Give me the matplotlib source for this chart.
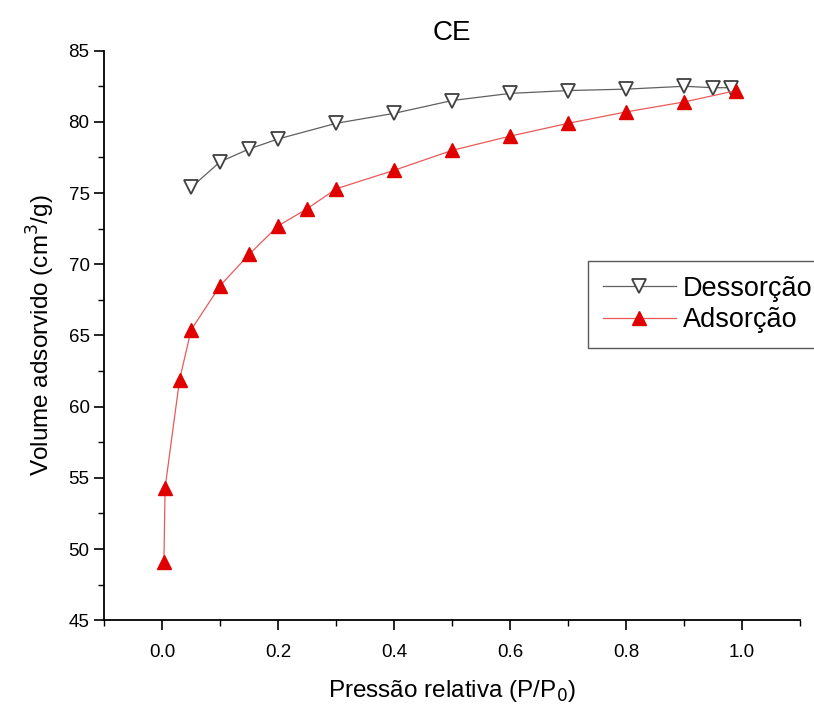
import matplotlib.pyplot as plt
from matplotlib.ticker import MultipleLocator

plt.rcParams['font.family'] = ['Liberation Sans', 'DejaVu Sans']

# adsorption branch
ads_p = [0.003, 0.005, 0.03, 0.05, 0.10, 0.15, 0.20, 0.25, 0.30, 0.40, 0.50, 0.60, 0.70, 0.80, 0.90, 0.99]
ads_v = [49.1, 54.3, 61.9, 65.4, 68.5, 70.7, 72.7, 73.9, 75.3, 76.6, 78.0, 79.0, 79.9, 80.7, 81.4, 82.2]

# desorption branch
des_p = [0.05, 0.10, 0.15, 0.20, 0.30, 0.40, 0.50, 0.60, 0.70, 0.80, 0.90, 0.95, 0.98]
des_v = [75.4, 77.2, 78.1, 78.8, 79.9, 80.6, 81.5, 82.0, 82.2, 82.3, 82.5, 82.4, 82.4]

fig = plt.figure(figsize=(8.14, 7.04), dpi=100)
ax = fig.add_axes([0.128, 0.119, 0.855, 0.809])

ax.plot(des_p, des_v, color='#606060', lw=0.9, marker='v', ms=10,
        mfc='white', mec='#404040', mew=1.3, label='Dessorção')
ax.plot(ads_p, ads_v, color='#e85a5a', lw=0.9, marker='^', ms=10,
        mfc='#e00000', mec='#e00000', label='Adsorção')

ax.set_xlim(-0.1, 1.1)
ax.set_ylim(45, 85)
ax.xaxis.set_major_locator(MultipleLocator(0.2))
ax.xaxis.set_minor_locator(MultipleLocator(0.1))
ax.yaxis.set_major_locator(MultipleLocator(5))
ax.yaxis.set_minor_locator(MultipleLocator(2.5))
ax.set_xticks([0.0, 0.2, 0.4, 0.6, 0.8, 1.0])
ax.set_xticklabels(['0.0', '0.2', '0.4', '0.6', '0.8', '1.0'])

for s in ['top', 'right']:
    ax.spines[s].set_visible(False)
for s in ['left', 'bottom']:
    ax.spines[s].set_linewidth(1.3)
ax.tick_params(which='major', direction='out', length=7, width=1.2, labelsize=13.5)
ax.tick_params(which='minor', direction='out', length=4, width=1.0)
ax.tick_params(axis='x', pad=10)

ax.set_xlabel('Pressão relativa (P/P$_0$)', fontsize=17.5, labelpad=12)
ax.set_ylabel('Volume adsorvido (cm$^3$/g)', fontsize=17.5, labelpad=8)
ax.set_title('CE', fontsize=20, pad=8)

leg = ax.legend(loc='upper left', bbox_to_anchor=(0.695, 0.631), fontsize=19.5,
                frameon=True, fancybox=False, edgecolor='#303030',
                handlelength=2.7, borderpad=0.55, labelspacing=0.2,
                handletextpad=0.25, borderaxespad=0)
leg.get_frame().set_linewidth(1.0)

fig.savefig('out.png', dpi=100)
